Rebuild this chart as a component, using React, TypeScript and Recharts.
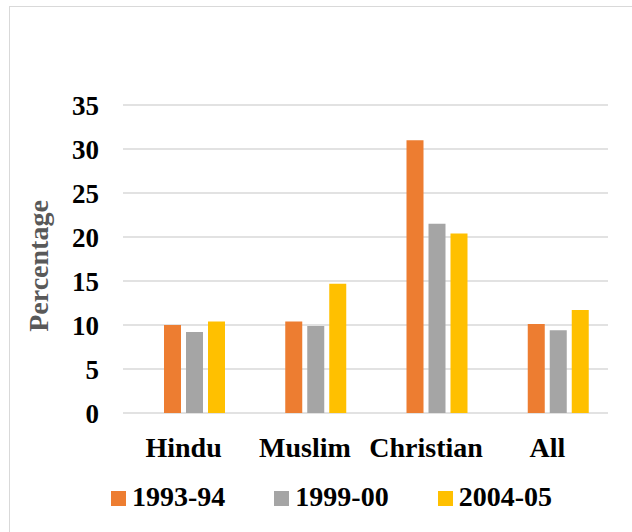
import React from "react";
import { BarChart, Bar, XAxis, YAxis, CartesianGrid, Label } from "recharts";

const categories = ["Hindu", "Muslim", "Christian", "All"];
const values1993 = [10.0, 10.4, 31.0, 10.1];
const values1999 = [9.2, 9.9, 21.5, 9.4];
const values2004 = [10.4, 14.7, 20.4, 11.7];
const seriesNames = ["1993-94", "1999-00", "2004-05"];
const seriesColors = ["#ED7D31", "#A5A5A5", "#FFC000"];
const yTicks = [0, 5, 10, 15, 20, 25, 30, 35];

const FONT = '"Liberation Serif", "Times New Roman", serif';

const data = categories.map((c, i) => ({
  category: c,
  s1: values1993[i],
  s2: values1999[i],
  s3: values2004[i],
}));

const YAxisTitle = (props: any) => {
  const vb = props.viewBox || { y: 98, height: 308 };
  const cx = 28;
  const cy = vb.y + vb.height / 2 + 7;
  return (
    <text
      x={cx}
      y={cy}
      transform={`rotate(-90 ${cx} ${cy})`}
      textAnchor="middle"
      dominantBaseline="central"
      fontFamily={FONT}
      fontWeight={700}
      fontSize={28}
      fill="#595959"
    >
      Percentage
    </text>
  );
};

function LegendRow() {
  return (
    <div
      style={{
        position: "absolute",
        left: 101,
        top: 476,
        display: "flex",
        alignItems: "center",
        gap: 49,
        fontFamily: FONT,
        fontWeight: 700,
        fontSize: 28,
        lineHeight: 1,
        color: "#000",
      }}
    >
      {seriesNames.map((name, i) => (
        <div key={name} style={{ display: "flex", alignItems: "center", gap: 6 }}>
          <span
            style={{
              display: "inline-block",
              width: 15,
              height: 15,
              background: seriesColors[i],
              marginTop: 3,
            }}
          />
          <span>{name}</span>
        </div>
      ))}
    </div>
  );
}

export default function App() {
  return (
    <>
      <style>{`body{margin:0;overflow:hidden;background:#fff}`}</style>
      <div
        style={{
          position: "relative",
          marginLeft: 9,
          marginTop: 6,
          width: 660,
          height: 560,
          border: "1px solid #d9d9d9",
          boxSizing: "border-box",
          background: "#fff",
        }}
      >
        <BarChart
          width={622}
          height={525}
          data={data}
          margin={{ top: 98, right: 24, left: 0, bottom: 89 }}
          barSize={17}
          barGap={5}
        >
          <CartesianGrid
            vertical={false}
            stroke="#d9d9d9"
            strokeWidth={1.3}
          />
          <XAxis
            xAxisId="cat"
            dataKey="category"
            axisLine={false}
            tickLine={false}
            tickSize={0}
            tickMargin={-6}
            height={30}
            tick={{ fontFamily: FONT, fontWeight: 700, fontSize: 28, fill: "#000" }}
            interval={0}
          />
          <XAxis
            xAxisId="bars"
            dataKey="category"
            hide
            padding={{ left: 11, right: -11 }}
          />
          <YAxis
            domain={[0, 35]}
            ticks={yTicks}
            width={113}
            axisLine={false}
            tickLine={false}
            tickSize={0}
            tickMargin={24}
            tick={{ fontFamily: FONT, fontWeight: 700, fontSize: 27, fill: "#000" }}
          >
            <Label content={<YAxisTitle />} />
          </YAxis>
          <Bar xAxisId="bars" dataKey="s1" name={seriesNames[0]} fill={seriesColors[0]} isAnimationActive={false} />
          <Bar xAxisId="bars" dataKey="s2" name={seriesNames[1]} fill={seriesColors[1]} isAnimationActive={false} />
          <Bar xAxisId="bars" dataKey="s3" name={seriesNames[2]} fill={seriesColors[2]} isAnimationActive={false} />
        </BarChart>
        <LegendRow />
      </div>
    </>
  );
}
